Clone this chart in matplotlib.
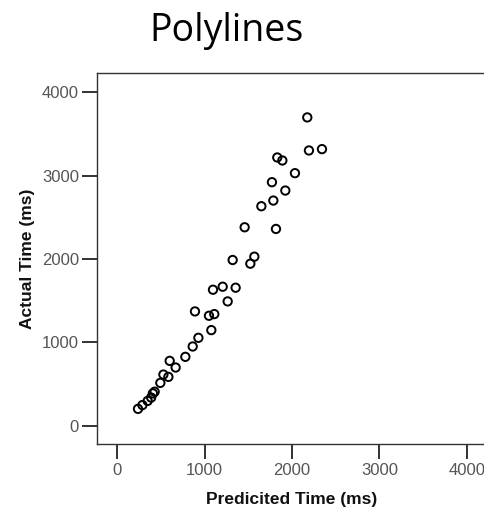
import matplotlib
matplotlib.use("Agg")
import matplotlib.pyplot as plt

# Predicted vs. actual completion time for the polyline task (ms)
predicted = [240, 290, 350, 390, 410, 430, 495, 530, 587, 602, 670, 781,
             865, 930, 891, 1051, 1112, 1078, 1097, 1208, 1356, 1265,
             1322, 1570, 1524, 1459, 1817, 1650, 1787, 1771, 1924, 2034,
             1832, 1890, 2175, 2194, 2343]
actual = [205, 250, 300, 340, 390, 410, 516, 616, 588, 780, 700, 828,
          952, 1056, 1372, 1320, 1340, 1148, 1632, 1668, 1656, 1492,
          1988, 2028, 1944, 2380, 2360, 2632, 2700, 2920, 2820, 3028,
          3216, 3180, 3696, 3300, 3316]

x_ticks = [0, 1000, 2000, 3000, 4000]
y_ticks = [0, 1000, 2000, 3000, 4000]

fig = plt.figure(figsize=(4.85, 5.09), dpi=100)
ax = fig.add_axes([0.2, 0.1277, 0.804, 0.7289])

ax.scatter(predicted, actual, s=36, facecolors="none", edgecolors="black",
           linewidths=1.4, zorder=3)

ax.set_xlim(-229, 4229)
ax.set_ylim(-216, 4228)
ax.set_xticks(x_ticks)
ax.set_yticks(y_ticks)
ax.set_xticklabels([str(t) for t in x_ticks])
ax.set_yticklabels([str(t) for t in y_ticks])

for side in ["left", "bottom", "top"]:
    ax.spines[side].set_color("#333333")
    ax.spines[side].set_linewidth(1.0)
ax.spines["right"].set_visible(False)

ax.tick_params(axis="both", direction="out", length=11, width=1.3,
               color="#222222", labelcolor="#555555", labelsize=12)
ax.tick_params(axis="y", pad=2)
ax.tick_params(axis="x", pad=3)
for lab in ax.get_xticklabels() + ax.get_yticklabels():
    lab.set_family("Liberation Sans")

ax.set_xlabel("Predicited Time (ms)", fontsize=12.5, fontweight="bold",
              family="Liberation Sans", color="#111111", labelpad=10)
ax.set_ylabel("Actual Time (ms)", fontsize=12.5, fontweight="bold",
              family="Liberation Sans", color="#111111", labelpad=5)

fig.text(0.468, 0.94, "Polylines", ha="center", va="center",
         fontsize=27, family="Open Sans", color="black")

fig.savefig("out.png", dpi=100)
